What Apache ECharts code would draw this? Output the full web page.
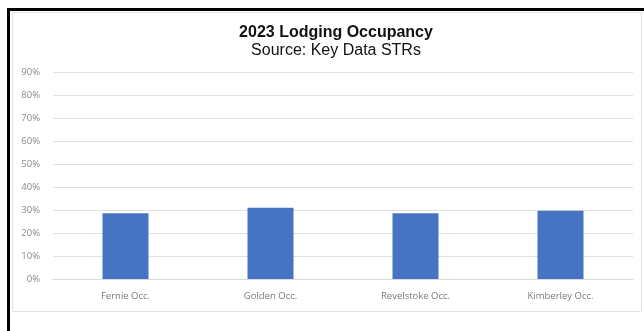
<!DOCTYPE html>
<html>
<head>
<meta charset="utf-8">
<script src="https://cdn.jsdelivr.net/npm/echarts@6/dist/echarts.min.js"></script>
<style>
  html, body { margin: 0; padding: 0; background: #ffffff; }
  #chart { width: 644px; height: 331px; }
</style>
</head>
<body>
<div id="chart"></div>
<script>
// Occupancy by community, 2023 (percent)
const categories = ['Fernie Occ.', 'Golden Occ.', 'Revelstoke Occ.', 'Kimberley Occ.'];
const occupancy = [28.6, 31.0, 28.6, 29.7];
const yTicks = [0, 10, 20, 30, 40, 50, 60, 70, 80, 90];

const chart = echarts.init(document.getElementById('chart'), null, { renderer: 'canvas' });

chart.setOption({
  backgroundColor: '#ffffff',
  animation: false,
  title: {
    text: '2023 Lodging Occupancy',
    subtext: 'Source: Key Data STRs',
    left: 331,
    textAlign: 'center',
    top: 20,
    itemGap: 2,
    textStyle: { fontFamily: 'Liberation Sans', fontWeight: 'bold', fontSize: 16, color: '#111111' },
    subtextStyle: { fontFamily: 'Liberation Sans', fontSize: 16, color: '#111111' }
  },
  graphic: [
    // outer frame: heavy black edges on top and left
    { type: 'rect', shape: { x: 7, y: 8, width: 3, height: 323 }, style: { fill: '#000000' }, silent: true },
    { type: 'rect', shape: { x: 7, y: 8, width: 637, height: 3 }, style: { fill: '#000000' }, silent: true },
    // chart area border
    { type: 'rect', shape: { x: 12.5, y: 12.5, width: 629, height: 299 },
      style: { fill: 'none', stroke: '#e2e2e2', lineWidth: 1 }, silent: true }
  ],
  grid: { left: 53, right: 11, top: 72, bottom: 52 },
  xAxis: {
    type: 'category',
    data: categories,
    axisLine: { show: true, lineStyle: { color: '#d9d9d9' } },
    axisTick: { show: false },
    axisLabel: { margin: 12, fontFamily: 'Open Sans', fontSize: 9.5, color: '#7a7a7a' }
  },
  yAxis: {
    type: 'value',
    min: yTicks[0],
    max: yTicks[yTicks.length - 1],
    interval: 10,
    axisLine: { show: false },
    axisTick: { show: false },
    splitLine: { lineStyle: { color: '#e0e0e0' } },
    axisLabel: { margin: 13, fontFamily: 'Open Sans', fontSize: 9.5, color: '#8a8a8a', formatter: '{value}%' }
  },
  series: [{
    type: 'bar',
    data: occupancy,
    barWidth: 46,
    itemStyle: { color: '#4674c3' }
  }]
});
</script>
</body>
</html>
